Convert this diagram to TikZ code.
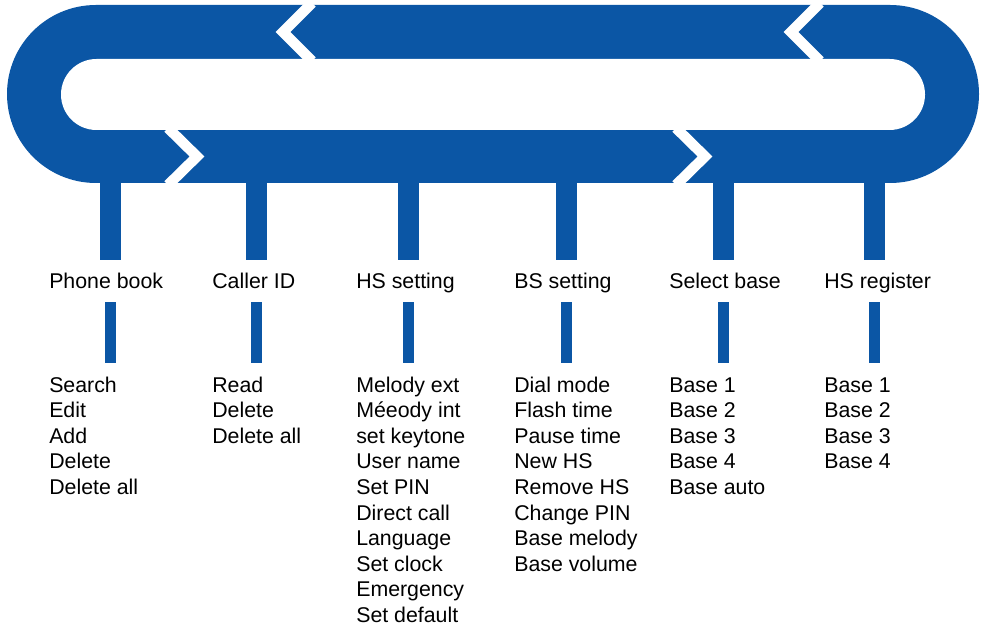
\documentclass[tikz,border=0pt]{standalone}
\usepackage{fontspec}
\setmainfont{Liberation Sans}
\usepackage{tikz}
\definecolor{menublue}{RGB}{11,86,165}

\tikzset{
  menuhead/.style={font=\fontsize{16pt}{19pt}\selectfont, anchor=base west, inner sep=0pt},
  menuitem/.style={font=\fontsize{16pt}{19pt}\selectfont, anchor=base west, inner sep=0pt},
  gap/.style={draw=white, line width=7.8pt, miter limit=10},
}

\begin{document}
\begin{tikzpicture}[x=0.75pt,y=-0.75pt]
\useasboundingbox (0,0) rectangle (984,623);

% the loop band
\fill[menublue, rounded corners=66.7pt] (7,5) rectangle (979,183);
\fill[white, rounded corners=26.6pt] (61,59) rectangle (925,130);

% chevron gaps
\draw[gap] (312,3) -- (283,32) -- (312,61);
\draw[gap] (820,3) -- (791,32) -- (820,61);
\draw[gap] (168,128) -- (197,156.5) -- (168,185);
\draw[gap] (676,128) -- (705,156.5) -- (676,185);

% stems
\foreach \cx in {110.5,256,408.5,566,723.5,874.5}
{
  \fill[menublue] (\cx-10.5,180) rectangle (\cx+10.5,260);
  \fill[menublue] (\cx-5.5,302) rectangle (\cx+5.5,363);
}

% Phone book
\node[menuhead] (phone) at (49,289) {Phone book};
\foreach \t [count=\i from 0] in {Search,Edit,Add,Delete,Delete all}
  \node[menuitem] (phone\i) at (49,{392+25.6*\i}) {\t};

% Caller ID
\node[menuhead] (caller) at (212,289) {Caller ID};
\foreach \t [count=\i from 0] in {Read,Delete,Delete all}
  \node[menuitem] (caller\i) at (212,{392+25.6*\i}) {\t};

% HS setting
\node[menuhead] (hsset) at (356,289) {HS setting};
\foreach \t [count=\i from 0] in {Melody ext,Méeody int,set keytone,User name,Set PIN,Direct call,Language,Set clock,Emergency,Set default}
  \node[menuitem] (hsset\i) at (356,{392+25.6*\i}) {\t};

% BS setting
\node[menuhead] (bsset) at (514,289) {BS setting};
\foreach \t [count=\i from 0] in {Dial mode,Flash time,Pause time,New HS,Remove HS,Change PIN,Base melody,Base volume}
  \node[menuitem] (bsset\i) at (514,{392+25.6*\i}) {\t};

% Select base
\node[menuhead] (selbase) at (669,289) {Select base};
\foreach \t [count=\i from 0] in {Base 1,Base 2,Base 3,Base 4,Base auto}
  \node[menuitem] (selbase\i) at (669,{392+25.6*\i}) {\t};

% HS register
\node[menuhead] (hsreg) at (824,289) {HS register};
\foreach \t [count=\i from 0] in {Base 1,Base 2,Base 3,Base 4}
  \node[menuitem] (hsreg\i) at (824,{392+25.6*\i}) {\t};

\end{tikzpicture}
\end{document}
